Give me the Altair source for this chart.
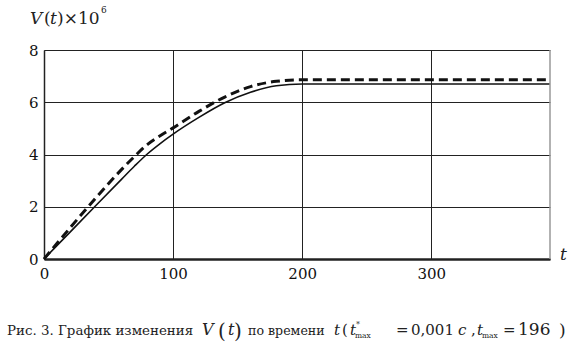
import altair as alt
import pandas as pd

# ---- data ----
t_vals = [0, 20, 40, 60, 70, 80, 90, 100, 120, 140, 160, 180, 200, 250, 300, 350, 392]
v_solid = [0, 1.02, 2.04, 3.05, 3.55, 4.02, 4.42, 4.78, 5.42, 5.98, 6.38, 6.63, 6.7, 6.7, 6.7, 6.7, 6.7]
v_dashed = [0, 1.18, 2.33, 3.42, 3.92, 4.38, 4.72, 5.02, 5.65, 6.2, 6.6, 6.8, 6.86, 6.86, 6.86, 6.86, 6.86]
x_ticks = [0, 100, 200, 300]
y_ticks = [0, 2, 4, 6, 8]
x_max = 392
y_max = 8

W, H = 506, 209
SERIF = "DejaVu Serif"

df = pd.DataFrame({
    "t": t_vals * 2,
    "V": v_solid + v_dashed,
    "s": ["solid"] * len(t_vals) + ["dashed"] * len(t_vals),
})

x_enc = alt.X("t:Q", scale=alt.Scale(domain=[0, x_max], nice=False, zero=True),
              axis=alt.Axis(values=x_ticks, title=None, grid=True, gridColor="#222",
                            gridWidth=1, gridOpacity=1, ticks=False, domainColor="#222",
                            domainWidth=2.5, labelFont=SERIF, labelFontSize=15,
                            labelColor="#111", labelPadding=7, labelFlush=False))
y_enc = alt.Y("V:Q", scale=alt.Scale(domain=[0, y_max], nice=False),
              axis=alt.Axis(values=y_ticks, title=None, grid=True, gridColor="#222",
                            gridWidth=1.2, gridOpacity=1, ticks=False, domainColor="#222",
                            domainWidth=1.5, labelFont=SERIF, labelFontSize=15,
                            labelColor="#111", labelPadding=6))

solid = alt.Chart(df).transform_filter(alt.datum.s == "solid").mark_line(
    color="#111", strokeWidth=1.6, interpolate="monotone").encode(x=x_enc, y=y_enc)
dashed = alt.Chart(df).transform_filter(alt.datum.s == "dashed").mark_line(
    color="#111", strokeWidth=3, strokeDash=[9, 5], interpolate="monotone").encode(x="t:Q", y="V:Q")

right_border = alt.Chart(pd.DataFrame({"a": [0]})).mark_rule(color="#999", strokeWidth=1.5).encode(
    x=alt.value(W), y=alt.value(0), y2=alt.value(H))

one = pd.DataFrame({"a": [0]})


def txt(s, x, y, size=13, style="normal", color="#222", font=SERIF):
    return alt.Chart(one).mark_text(text=s, font=font, fontSize=size, fontStyle=style,
                                    align="left", baseline="alphabetic", color=color).encode(
        x=alt.value(x - 44), y=alt.value(y - 50))


texts = [
    # y-axis title
    txt("V", 30, 24, 17, "italic"),
    txt("(", 44, 24, 17),
    txt("t", 50, 24, 17, "italic"),
    txt(")×10", 57, 24, 17),
    txt("6", 101, 13, 9),
    # x-axis title
    txt("t", 560, 260, 17, "italic"),
    # caption
    txt("Рис. 3. График изменения", 7, 335, 13.4),
    txt("V", 202, 335, 16, "italic"),
    txt("(", 218, 338, 20),
    txt("t", 228, 335, 16, "italic"),
    txt(")", 234, 338, 20),
    txt("по времени", 248, 335, 12.6),
    txt("t", 334, 335, 15, "italic"),
    txt("(", 342, 335, 15),
    txt("t", 350, 335, 15, "italic"),
    txt("*", 356, 327, 8),
    txt("max", 355, 338, 7.5),
    txt("=", 396, 335, 15),
    txt("0,001", 411, 335, 15),
    txt("c", 458, 335, 15, "italic"),
    txt(",", 471, 335, 15),
    txt("t", 477, 335, 15, "italic"),
    txt("max", 482, 338, 7.5),
    txt("=", 503, 335, 15),
    txt("196", 518, 335, 17),
    txt(")", 559, 336, 17),
]

chart = alt.layer(solid, dashed, right_border, *texts).properties(
    width=W, height=H,
    padding={"left": 44, "top": 50, "right": 29, "bottom": 94},
    autosize=alt.AutoSizeParams(type="none"),
    background="white",
).configure_view(stroke=None)

chart.save("out.html", embed_options={"renderer": "svg", "actions": False})
